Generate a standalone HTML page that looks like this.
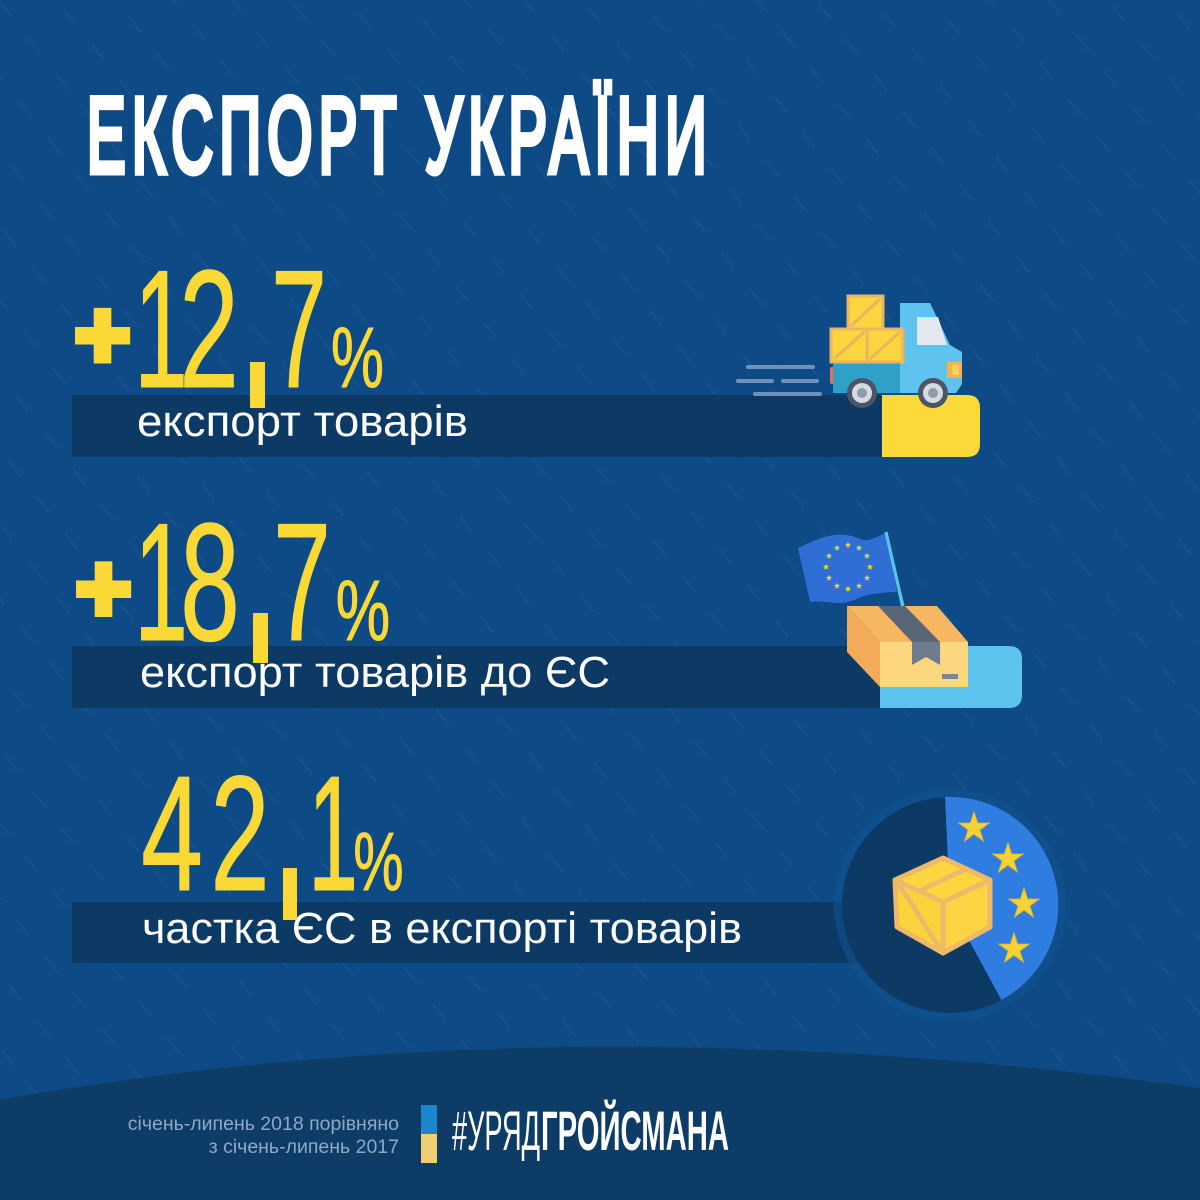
<!DOCTYPE html>
<html><head><meta charset="utf-8"><style>html,body{margin:0;padding:0;background:#0e4b86;}svg{display:block}</style></head>
<body>
<svg width="1200" height="1200" viewBox="0 0 1200 1200" xmlns="http://www.w3.org/2000/svg" font-family="'Liberation Sans', 'DejaVu Sans', sans-serif">
<defs>
<pattern id="p" width="46" height="46" patternUnits="userSpaceOnUse" patternTransform="rotate(52)">
<rect x="0" y="0" width="20" height="2" fill="#ffffff" opacity="0.035"/>
<rect x="26" y="23" width="14" height="2" fill="#000000" opacity="0.04"/>
</pattern>
</defs>
<rect width="1200" height="1200" fill="#0e4b86"/>
<rect width="1200" height="1200" fill="url(#p)"/>

<!-- Title -->
<text x="87" y="172" font-size="107" letter-spacing="12" fill="#ffffff" stroke="#ffffff" stroke-width="7" stroke-linejoin="miter" textLength="626" lengthAdjust="spacingAndGlyphs">ЕКСПОРТ УКРАЇНИ</text>

<!-- Row 1 bar + truck -->
<rect x="72" y="395" width="812" height="62" fill="#0c3a64"/>
<path d="M882,395 H967 Q980,395 980,408 V444 Q980,457 967,457 H882 Z" fill="#fbd938"/>
<g stroke="#7190b9" stroke-width="4" stroke-linecap="round">
<line x1="748" y1="367" x2="813" y2="367"/>
<line x1="738" y1="381" x2="772" y2="381"/>
<line x1="783" y1="381" x2="817" y2="381"/>
<line x1="755" y1="394" x2="820" y2="394"/>
</g>
<rect x="830" y="367" width="9" height="17" rx="2" fill="#ef6a5a"/>
<rect x="833" y="362" width="70" height="31" fill="#2fa0c8"/>
<polygon points="900,303 930,303 950,345 962,352 962,384 956,393 900,393" fill="#5ec3ee"/>
<polygon points="917,317 938,317 947,345 917,345" fill="#e4e7ec"/>
<rect x="947" y="362" width="15" height="16" fill="#f5b14a"/>
<rect x="952" y="365" width="7" height="10" fill="#fcd25a"/>
<g fill="#fbd53d" stroke="#e9b560" stroke-width="3">
<rect x="831" y="329" width="36" height="33"/>
<rect x="867" y="329" width="36" height="33"/>
<rect x="848" y="296" width="35" height="33"/>
<line x1="834" y1="359" x2="864" y2="332"/>
<line x1="870" y1="359" x2="900" y2="332"/>
<line x1="851" y1="326" x2="880" y2="299"/>
</g>
<circle cx="862" cy="393" r="15" fill="#4b5565"/>
<circle cx="862" cy="393" r="10" fill="#d5dbe1"/>
<circle cx="862" cy="393" r="5" fill="#8d9bab"/>
<circle cx="933" cy="393" r="15" fill="#4b5565"/>
<circle cx="933" cy="393" r="10" fill="#d5dbe1"/>
<circle cx="933" cy="393" r="5" fill="#8d9bab"/>

<text x="137" y="436" font-size="44" fill="#ffffff" textLength="331" lengthAdjust="spacingAndGlyphs">експорт товарів</text>

<!-- Row 1 number -->
<g fill="#fad936" stroke="#fad936" stroke-width="1" text-anchor="middle">
<text x="102.5" y="367.5" font-size="96" font-weight="bold" stroke-width="7">+</text>
<text transform="translate(161,387) scale(0.58,1)" font-size="168">1</text>
<text transform="translate(209,387) scale(0.64,1)" font-size="168">2</text>
<text transform="translate(299,387) scale(0.6,1)" font-size="168">7</text>
<text transform="translate(357.5,387) scale(0.7,1)" font-size="85">%</text>
</g>
<rect x="250" y="362" width="15" height="46" fill="#fad936"/>
<text x="257.5" y="390" font-size="80" fill="#fad936" text-anchor="middle">,</text>

<!-- Row 2 bar + box -->
<rect x="72" y="646" width="810" height="62" fill="#0c3a64"/>
<path d="M880,646 H1009 Q1022,646 1022,659 V695 Q1022,708 1009,708 H880 Z" fill="#5bc3ee"/>
<path d="M798,548 C815,540 830,533 847,535 C858,537 862,541 868,540 C876,538 880,535 886,533 L897,592 C888,592 878,593 867,595 C857,598 850,603 840,603 C828,603 820,600 810,602 Z" fill="#2e6ed5"/>
<g fill="#f4d33a">
<polygon points="0,-1 0.2245,-0.309 0.951,-0.309 0.363,0.118 0.588,0.809 0,0.382 -0.588,0.809 -0.363,0.118 -0.951,-0.309 -0.2245,-0.309" transform="translate(848,545) scale(3.5)"/>
<polygon points="0,-1 0.2245,-0.309 0.951,-0.309 0.363,0.118 0.588,0.809 0,0.382 -0.588,0.809 -0.363,0.118 -0.951,-0.309 -0.2245,-0.309" transform="translate(859,548) scale(3.5)"/>
<polygon points="0,-1 0.2245,-0.309 0.951,-0.309 0.363,0.118 0.588,0.809 0,0.382 -0.588,0.809 -0.363,0.118 -0.951,-0.309 -0.2245,-0.309" transform="translate(867,556) scale(3.5)"/>
<polygon points="0,-1 0.2245,-0.309 0.951,-0.309 0.363,0.118 0.588,0.809 0,0.382 -0.588,0.809 -0.363,0.118 -0.951,-0.309 -0.2245,-0.309" transform="translate(870,567) scale(3.5)"/>
<polygon points="0,-1 0.2245,-0.309 0.951,-0.309 0.363,0.118 0.588,0.809 0,0.382 -0.588,0.809 -0.363,0.118 -0.951,-0.309 -0.2245,-0.309" transform="translate(867,578) scale(3.5)"/>
<polygon points="0,-1 0.2245,-0.309 0.951,-0.309 0.363,0.118 0.588,0.809 0,0.382 -0.588,0.809 -0.363,0.118 -0.951,-0.309 -0.2245,-0.309" transform="translate(859,586) scale(3.5)"/>
<polygon points="0,-1 0.2245,-0.309 0.951,-0.309 0.363,0.118 0.588,0.809 0,0.382 -0.588,0.809 -0.363,0.118 -0.951,-0.309 -0.2245,-0.309" transform="translate(848,589) scale(3.5)"/>
<polygon points="0,-1 0.2245,-0.309 0.951,-0.309 0.363,0.118 0.588,0.809 0,0.382 -0.588,0.809 -0.363,0.118 -0.951,-0.309 -0.2245,-0.309" transform="translate(837,586) scale(3.5)"/>
<polygon points="0,-1 0.2245,-0.309 0.951,-0.309 0.363,0.118 0.588,0.809 0,0.382 -0.588,0.809 -0.363,0.118 -0.951,-0.309 -0.2245,-0.309" transform="translate(829,578) scale(3.5)"/>
<polygon points="0,-1 0.2245,-0.309 0.951,-0.309 0.363,0.118 0.588,0.809 0,0.382 -0.588,0.809 -0.363,0.118 -0.951,-0.309 -0.2245,-0.309" transform="translate(826,567) scale(3.5)"/>
<polygon points="0,-1 0.2245,-0.309 0.951,-0.309 0.363,0.118 0.588,0.809 0,0.382 -0.588,0.809 -0.363,0.118 -0.951,-0.309 -0.2245,-0.309" transform="translate(829,556) scale(3.5)"/>
<polygon points="0,-1 0.2245,-0.309 0.951,-0.309 0.363,0.118 0.588,0.809 0,0.382 -0.588,0.809 -0.363,0.118 -0.951,-0.309 -0.2245,-0.309" transform="translate(837,548) scale(3.5)"/>
</g>
<line x1="886" y1="532" x2="906" y2="622" stroke="#5bc0eb" stroke-width="3"/>
<polygon points="847,606 937,606 968,642 880,642" fill="#f7b662"/>
<polygon points="878,606 905,606 940,642 912,642" fill="#5a6577"/>
<line x1="886" y1="532" x2="903" y2="606" stroke="#5bc0eb" stroke-width="3"/>
<polygon points="847,606 880,642 880,687 847,652" fill="#f2ab58"/>
<rect x="880" y="642" width="88" height="45" fill="#fdd680"/>
<polygon points="912,642 940,642 940,665 926,657 912,665" fill="#6f7c8d"/>
<rect x="942" y="674" width="16" height="5" fill="#7b8796"/>

<text x="140" y="687" font-size="44" fill="#ffffff" textLength="470" lengthAdjust="spacingAndGlyphs">експорт товарів до ЄС</text>

<!-- Row 2 number -->
<g fill="#fad936" stroke="#fad936" stroke-width="1" text-anchor="middle">
<text x="103.5" y="621" font-size="96" font-weight="bold" stroke-width="7">+</text>
<text transform="translate(161,640) scale(0.58,1)" font-size="168">1</text>
<text transform="translate(210,640) scale(0.64,1)" font-size="168">8</text>
<text transform="translate(302,640) scale(0.62,1)" font-size="168">7</text>
<text transform="translate(363,640) scale(0.72,1)" font-size="85">%</text>
</g>
<rect x="253" y="613" width="15" height="50" fill="#fad936"/>
<text x="260.5" y="643" font-size="80" fill="#fad936" text-anchor="middle">,</text>

<!-- Row 3 bar + pie -->
<rect x="72" y="902" width="790" height="61" fill="#0c3a64"/>
<circle cx="950" cy="905" r="116" fill="#11528f" opacity="0.6"/>
<circle cx="950" cy="905" r="108" fill="#0c3a64"/>
<path d="M950,905 L945,797 A108,108 0 0 1 1001.4,1000 Z" fill="#2f7de0"/>
<g fill="#f6d234" stroke="#e0b82a" stroke-width="0.06">
<polygon points="0,-1 0.2245,-0.309 0.951,-0.309 0.363,0.118 0.588,0.809 0,0.382 -0.588,0.809 -0.363,0.118 -0.951,-0.309 -0.2245,-0.309" transform="translate(974,828) scale(16)"/>
<polygon points="0,-1 0.2245,-0.309 0.951,-0.309 0.363,0.118 0.588,0.809 0,0.382 -0.588,0.809 -0.363,0.118 -0.951,-0.309 -0.2245,-0.309" transform="translate(1008,859) scale(16)"/>
<polygon points="0,-1 0.2245,-0.309 0.951,-0.309 0.363,0.118 0.588,0.809 0,0.382 -0.588,0.809 -0.363,0.118 -0.951,-0.309 -0.2245,-0.309" transform="translate(1024,904) scale(16)"/>
<polygon points="0,-1 0.2245,-0.309 0.951,-0.309 0.363,0.118 0.588,0.809 0,0.382 -0.588,0.809 -0.363,0.118 -0.951,-0.309 -0.2245,-0.309" transform="translate(1014,949) scale(16)"/>
</g>
<g stroke="#efb96a" stroke-width="5" stroke-linejoin="round">
<polygon points="943,858 990,880 943,902 895,880" fill="#fcd63f"/>
<polygon points="895,880 943,902 943,953 897,927" fill="#fad33a"/>
<polygon points="943,902 990,880 990,927 943,953" fill="#fbd444"/>
<line x1="919" y1="891" x2="966" y2="869"/>
<line x1="899" y1="884" x2="939" y2="947"/>
</g>

<text x="142" y="943" font-size="44" fill="#ffffff" textLength="600" lengthAdjust="spacingAndGlyphs">частка ЄС в експорті товарів</text>

<!-- Row 3 number -->
<g fill="#fad936" stroke="#fad936" stroke-width="1" text-anchor="middle">
<text transform="translate(172,890) scale(0.68,1)" font-size="164">4</text>
<text transform="translate(240,890) scale(0.65,1)" font-size="164">2</text>
<text transform="translate(333,890) scale(0.55,1)" font-size="164">1</text>
<text transform="translate(378.5,890) scale(0.68,1)" font-size="83">%</text>
</g>
<rect x="283" y="868" width="14" height="52" fill="#fad936"/>
<text x="290" y="898" font-size="80" fill="#fad936" text-anchor="middle">,</text>

<!-- Bottom wave -->
<path d="M0,1100 Q560,1000 1200,1088 L1200,1200 L0,1200 Z" fill="#0d3c66"/>

<!-- Footer -->
<text x="399" y="1130" font-size="19.5" fill="#8fa8c7" text-anchor="end">січень-липень 2018 порівняно</text>
<text x="399" y="1153" font-size="19.5" fill="#8fa8c7" text-anchor="end">з січень-липень 2017</text>
<rect x="421" y="1105" width="16" height="29" fill="#1a86cc"/>
<rect x="421" y="1134" width="16" height="29" fill="#efcf74"/>
<text x="452" y="1150" font-size="56" fill="#ffffff" textLength="88" lengthAdjust="spacingAndGlyphs">#УРЯД</text>
<text x="541" y="1150" font-size="56" font-weight="bold" fill="#ffffff" textLength="188" lengthAdjust="spacingAndGlyphs">ГРОЙСМАНА</text>
</svg>
</body></html>
